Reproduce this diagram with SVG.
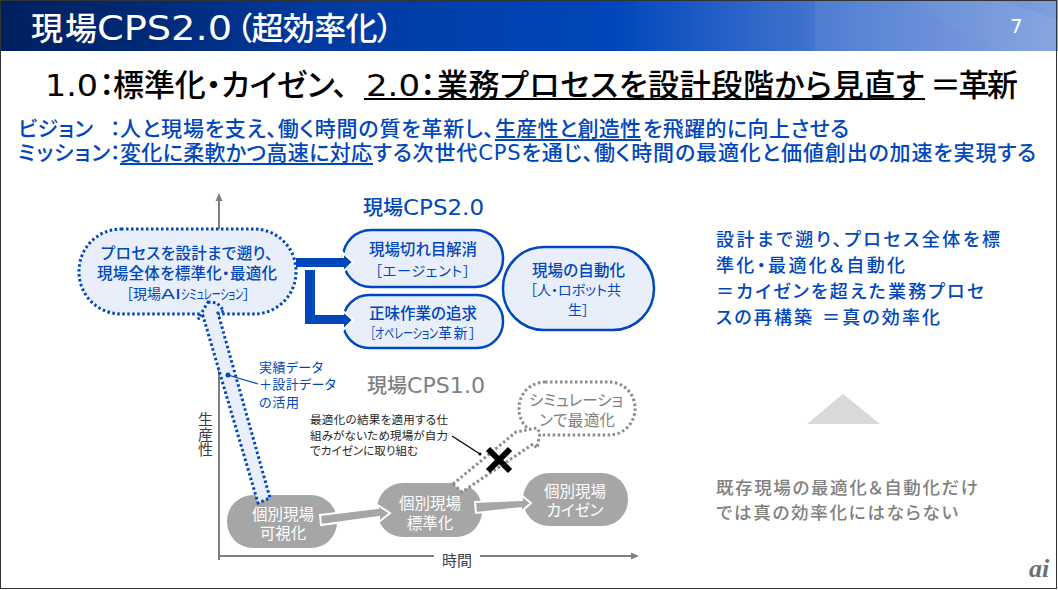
<svg xmlns="http://www.w3.org/2000/svg" width="1058" height="590" viewBox="0 0 1058 590">
<style>
text{font-family:"DejaVu Sans","Noto Sans CJK JP",sans-serif;font-feature-settings:"palt"}
.b{fill:#0047bb}.g{fill:#7f7f7f}.w{fill:#fff}.k{fill:#000}
.m{text-anchor:middle}
.h1{font-size:31px;font-weight:500}
.h2{font-size:21px;font-weight:500}
.t{font-size:32px;font-weight:500;fill:#fff}
.nt{font-size:15.5px;font-weight:500}
.ns{font-size:14px;font-weight:400}
.node{fill:#e9effa;stroke:#0047bb;stroke-width:2.5}
.dot{fill:#e9effa;stroke:#0047bb;stroke-width:3;stroke-dasharray:2.5 2.5}
.gdot{fill:#fff;stroke:#8c8c8c;stroke-width:3;stroke-dasharray:2.5 2.5}
.gn{fill:#a6a6a6}
.gt{fill:#fff;font-size:15.5px;text-anchor:middle}
.ar{fill:#a6a6a6;stroke:#fff;stroke-width:2}
.bh{fill:#0047bb;stroke:#fff;stroke-width:2}
.ax{stroke:#7f7f7f;stroke-width:2;fill:none}
.u{fill:#0047bb}
</style>
<defs>
<linearGradient id="hd" x1="0" x2="1" y1="0" y2="0"><stop offset="0" stop-color="#00205f"/><stop offset="0.12" stop-color="#002872"/><stop offset="0.3" stop-color="#003a9e"/><stop offset="0.58" stop-color="#0047bb"/><stop offset="0.8" stop-color="#4d7bd2"/><stop offset="1" stop-color="#7f9fde"/></linearGradient>
</defs>
<rect width="1058" height="590" fill="#fff"/>
<rect x="0" y="0" width="1058" height="51" fill="url(#hd)"/>
<polygon points="815,51 815,0 900,0 1000,51" fill="#fff" opacity="0.06"/>
<polygon points="900,0 1000,51 1058,51 1058,20 1000,0" fill="#fff" opacity="0.07"/>
<rect x="0.5" y="0.5" width="1056" height="588" fill="none" stroke="#333" stroke-width="1"/>
<text class="t" x="31" y="40" textLength="66">現場</text>
<text class="t" x="97" y="40" style="font-size:34px" textLength="135" lengthAdjust="spacingAndGlyphs">CPS2.0</text>
<text class="t" x="236" y="40" textLength="157">（超効率化）</text>
<text id="page" class="w" x="1010" y="33" font-size="20">7</text>

<text class="h1 k" x="45" y="96" textLength="53" lengthAdjust="spacingAndGlyphs">1.0</text>
<text class="h1 k" x="99" y="96" textLength="12">：</text>
<text class="h1 k" x="113" y="96" textLength="235">標準化・カイゼン、</text>
<text class="h1 k" x="366" y="96" textLength="54" lengthAdjust="spacingAndGlyphs">2.0</text>
<text class="h1 k" x="420" y="96" textLength="14">：</text>
<text class="h1 k" x="437" y="96" textLength="487">業務プロセスを設計段階から見直す</text>
<rect x="364" y="98" width="561" height="2" fill="#000"/>
<text class="h1 k" x="930" y="96" textLength="88">＝革新</text>

<text class="h2 b" x="18" y="136" textLength="75">ビジョン</text>
<text class="h2 b" x="110" y="136" textLength="9">：</text>
<text class="h2 b" x="120" y="136" textLength="374">人と現場を支え、働く時間の質を革新し、</text>
<text class="h2 b" x="495" y="136" textLength="146">生産性と創造性</text>
<rect x="495" y="139" width="146" height="2" class="u"/>
<text class="h2 b" x="643" y="136" textLength="206">を飛躍的に向上させる</text>
<text class="h2 b" x="18" y="160" textLength="92">ミッション</text>
<text class="h2 b" x="110" y="160" textLength="9">：</text>
<text class="h2 b" x="120" y="160" textLength="252">変化に柔軟かつ高速に対応</text>
<rect x="120" y="163" width="253" height="2" class="u"/>
<text class="h2 b" x="373" y="160" textLength="663">する次世代CPSを通じ、働く時間の最適化と価値創出の加速を実現する</text>

<g id="axes">
<path class="ax" d="M219 560V200"/><polygon points="219,193 215.500,201 222.500,201" fill="#7f7f7f"/>
<path class="ax" d="M219 556H434M480 556H632"/><polygon points="639,556 631,552.500 631,559.500" fill="#7f7f7f"/>
</g>

<g id="node-sim"><rect x="519" y="382" width="116" height="53" rx="26" class="gdot"/>
<text class="g" font-size="15.500"><tspan x="529" y="406" textLength="94">シミュレーショ</tspan><tspan x="539" y="426" textLength="76">ンで最適化</tspan></text></g>

<g id="node-current"><rect x="227" y="495" width="110" height="53" rx="26" class="gn"/><text class="gt" x="283"><tspan x="283" y="520">個別現場</tspan><tspan x="283" y="539">可視化</tspan></text></g>
<g id="node-standard"><rect x="377" y="483" width="105" height="54" rx="26" class="gn"/><text class="gt"><tspan x="430" y="509">個別現場</tspan><tspan x="430" y="529">標準化</tspan></text></g>
<g id="node-kaizen"><rect x="523" y="473" width="105" height="53" rx="26" class="gn"/><text class="gt"><tspan x="575" y="497">個別現場</tspan><tspan x="575" y="516">カイゼン</tspan></text></g>

<g id="node-process"><rect x="79" y="229" width="217" height="85" rx="42" class="dot"/>
<text class="b nt"><tspan x="101" y="259" textLength="172">プロセスを設計まで遡り、</tspan><tspan x="97" y="279" textLength="180">現場全体を標準化・最適化</tspan><tspan class="ns" x="126" y="299" textLength="35">［現場</tspan><tspan class="ns" textLength="20" lengthAdjust="spacingAndGlyphs">AI</tspan><tspan class="ns" textLength="62" lengthAdjust="spacingAndGlyphs">シミュレーション</tspan><tspan class="ns">］</tspan></text></g>

<g id="node-v2-1"><rect x="343" y="230" width="160" height="57" rx="28" class="node"/><text class="b nt"><tspan x="369" y="255" textLength="108">現場切れ目解消</tspan><tspan class="ns" x="375" y="276" textLength="95">［エージェント］</tspan></text></g>
<g id="node-v2-2"><rect x="343" y="295" width="160" height="53" rx="26" class="node"/><text class="b nt"><tspan x="369" y="319" textLength="108">正味作業の追求</tspan><tspan class="ns" x="370" y="338" textLength="68" lengthAdjust="spacingAndGlyphs">［オペレーション</tspan><tspan class="ns" textLength="38">革新］</tspan></text></g>
<g id="node-v2-3"><rect x="503" y="247" width="151" height="83" rx="41" class="node"/><text class="b nt"><tspan x="532" y="276" textLength="93">現場の自動化</tspan><tspan class="ns" x="530" y="295">［人・ロボット共</tspan><tspan class="ns" x="568" y="315">生］</tspan></text></g>

<g id="connectors">
<polygon class="bh" points="343,253 353,262 343,272"/>
<rect x="296" y="258" width="48" height="9" fill="#0047bb"/>
<polygon class="bh" points="343,311 353,320 343,330"/>
<path d="M305 270H315V315H344V324H305Z" fill="#0047bb"/>
<polygon class="ar" points="320,515 378,508 376,504 390,513 379,522 379,517 321,525"/>
<polygon class="ar" points="475,502 522,500 521,495 531,503 521,512 521,508 476,513"/>
<polygon id="data-arrow" class="dot" points="208,302 217,303 224,311 218,313 270,498 258,503 203,316 198,319"/>
<path d="M228 375L258 384" stroke="#0047bb" stroke-width="1.300"/><circle cx="228" cy="375" r="2.500" fill="#0047bb"/>
<polygon id="dotted-arrow" class="gdot" points="453,484 516,432 537,428 540,433 537,448 533,444 462,492"/>
<path d="M452 436L480 454" stroke="#000" stroke-width="1.300"/><circle cx="480" cy="454" r="1.500" fill="#000"/>
<g id="x-mark" stroke="#000" stroke-width="6"><path d="M488 449L510 471M510 449L488 471"/></g>
</g>

<g id="data-label" class="b" font-size="13"><text x="259"><tspan x="259" y="372" textLength="64">実績データ</tspan><tspan x="259" y="389" textLength="77">＋設計データ</tspan><tspan x="259" y="407" textLength="40">の活用</tspan></text></g>

<text class="b" x="363" y="215" font-size="20" font-weight="500"><tspan textLength="40">現場</tspan><tspan font-size="21" textLength="81" lengthAdjust="spacingAndGlyphs">CPS2.0</tspan></text>
<text class="g" x="367" y="393" font-size="20" font-weight="500"><tspan textLength="40">現場</tspan><tspan font-size="21" textLength="78" lengthAdjust="spacingAndGlyphs">CPS1.0</tspan></text>
<text font-size="11.500" fill="#262626"><tspan x="310" y="424" textLength="138">最適化の結果を適用する仕</tspan><tspan x="310" y="440" textLength="138">組みがないため現場が自力</tspan><tspan x="310" y="455" textLength="108">でカイゼンに取り組む</tspan></text>
<text font-size="15" fill="#404040" x="204" y="412" style="writing-mode:vertical-rl;font-feature-settings:normal">生産性</text>
<text x="442" y="566" font-size="15" fill="#404040">時間</text>

<text id="right-blue" class="b" font-size="18" font-weight="500"><tspan x="716" y="246" textLength="284">設計まで遡り、プロセス全体を標</tspan><tspan x="716" y="272" textLength="189">準化・最適化＆自動化</tspan><tspan x="716" y="298" textLength="268">＝カイゼンを超えた業務プロセ</tspan><tspan x="716" y="324" textLength="224">スの再構築 ＝真の効率化</tspan></text>
<polygon id="triangle" points="843,394 880,424 807,424" fill="#d9d9d9"/>
<text id="right-grey" class="g" font-size="17.500" font-weight="500"><tspan x="716" y="494" textLength="262">既存現場の最適化＆自動化だけ</tspan><tspan x="716" y="519" textLength="242">では真の効率化にはならない</tspan></text>
<text x="1029" y="577" style="font-family:'Liberation Serif',serif;font-size:26px;font-style:italic;font-weight:700" fill="#6e6e6e">ai</text>
</svg>
